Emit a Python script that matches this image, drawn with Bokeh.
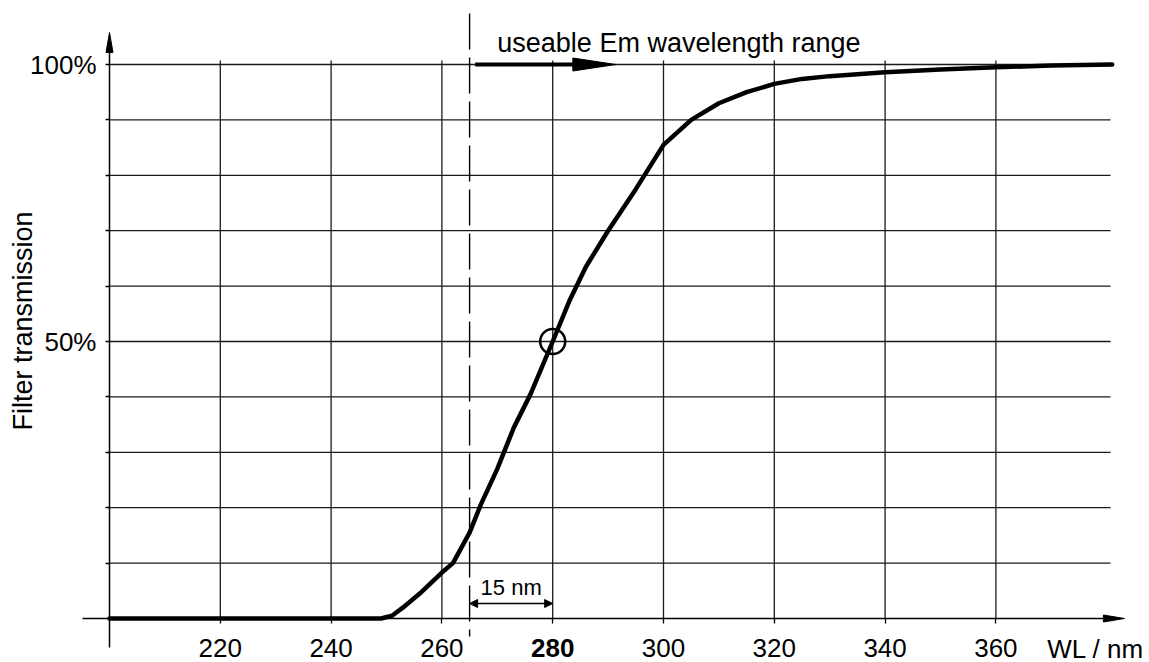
import numpy as np
from bokeh.plotting import figure
from bokeh.models import Range1d, LinearAxis, FixedTicker, Arrow, NormalHead
from bokeh.core.properties import value
from bokeh.embed import file_html
from bokeh.resources import INLINE

# ---------------- data ----------------
wavelength = [200, 249, 251, 253, 256, 260, 262, 265, 267, 270, 273, 276, 280,
              283, 286, 290, 295, 300, 305, 310, 315, 320, 325, 330, 340, 350,
              360, 370, 381]
transmission = [0, 0, 0.5, 2, 4.5, 8.3, 10, 15.5, 20.5, 27, 34.5, 40.5, 50,
                57.3, 63.5, 70, 77.5, 85.5, 90, 93, 95, 96.5, 97.4, 97.9, 98.6,
                99.1, 99.5, 99.8, 100]
x_ticks = [220, 240, 260, 280, 300, 320, 340, 360]
y_ticks = [10, 20, 30, 40, 50, 60, 70, 80, 90, 100]
y_tick_labels = {50: "50%", 100: "100%"}
cutoff_wl, cutoff_t = 280, 50          # 50 % point
edge_wl = 265                          # start of usable range (dashed)
usable_start, usable_end = 266, 291.4  # arrow along the 100 % line
dim_label = "15 nm"
title_text = "useable Em wavelength range"
ylabel_text = "Filter transmission"
xlabel_text = "WL / nm"
xlabel_pos = 378
x_min, grid_x_max, x_axis_end = 200, 380.7, 383.2

# ---------------- layout constants ----------------
W, H = 1149, 662
PX = 5.54   # px per nm
PY = 5.54   # px per %
X0 = 109    # figure px of 200 nm
Y0 = 618    # figure px of 0 %
FONT = value("Liberation Sans")


def dx(px):
    return px / PX


def dy(px):
    return px / PY


p = figure(width=W, height=H, output_backend="svg", toolbar_location=None,
           x_axis_type=None, y_axis_type=None, min_border=0,
           x_range=Range1d(x_min - X0 / PX, x_min + (W - X0) / PX),
           y_range=Range1d(-(H - Y0) / PY, Y0 / PY))
p.outline_line_color = None
p.background_fill_color = "white"

GRID = "#1a1a1a"
# grid
p.segment(x0=x_ticks, y0=[0] * len(x_ticks), x1=x_ticks,
          y1=[100 + dy(4)] * len(x_ticks), line_color=GRID, line_width=1.3)
p.segment(x0=[x_min] * len(y_ticks), y0=y_ticks, x1=[grid_x_max] * len(y_ticks),
          y1=y_ticks, line_color=GRID, line_width=1.3)

# axis lines with arrow heads
p.segment(x0=[x_min], y0=[-dy(29)], x1=[x_min], y1=[100 + dy(14)],
          line_color="black", line_width=1.5)
p.patch(x=[x_min - dx(3.5), x_min, x_min + dx(3.5)],
        y=[100 + dy(12), 100 + dy(32), 100 + dy(12)], color="black")
p.segment(x0=[x_min - dx(27)], y0=[0], x1=[x_axis_end - dx(18)], y1=[0],
          line_color="black", line_width=1.5)
p.patch(x=[x_axis_end - dx(21), x_axis_end, x_axis_end - dx(21)],
        y=[-dy(3.5), 0, dy(3.5)], color="black")

# dashed edge line
p.segment(x0=[edge_wl], y0=[100 + dy(51)], x1=[edge_wl], y1=[-dy(18)],
          line_color="black", line_width=1.4, line_dash="36 8")

# usable range arrow
p.segment(x0=[usable_start], y0=[100], x1=[usable_end - dx(40)], y1=[100],
          line_color="black", line_width=4)
p.patch(x=[usable_end - dx(43), usable_end, usable_end - dx(43)],
        y=[100 - dy(6.5), 100, 100 + dy(6.5)], color="black")

# curve
p.line(wavelength, transmission, line_color="black", line_width=4.5,
       line_join="round", line_cap="round")
p.scatter([cutoff_wl], [cutoff_t], size=25, marker="circle", fill_color=None,
          line_color="black", line_width=2.5)

# 15 nm dimension
dim_y = dy(15)
p.add_layout(Arrow(x_start=edge_wl, y_start=dim_y, x_end=cutoff_wl, y_end=dim_y,
                   line_width=1.3, line_color="black",
                   start=NormalHead(size=8, fill_color="black", line_color="black"),
                   end=NormalHead(size=8, fill_color="black", line_color="black")))
p.text(x=[(edge_wl + cutoff_wl) / 2], y=[dy(31)], text=[dim_label],
       text_font=FONT, text_font_size="22px", text_align="center",
       text_baseline="alphabetic", text_color="black")

# texts
p.text(x=[270], y=[100 + dy(22)], text=[title_text], text_font=FONT,
       text_font_size="27px", text_align="left", text_baseline="alphabetic",
       text_color="black")
p.text(x=[x_min - dx(87)], y=[dy(188)], text=[ylabel_text], angle=np.pi / 2,
       text_font=FONT, text_font_size="27px", text_align="left",
       text_baseline="alphabetic", text_color="black")


def style_axis(ax, tick_out, standoff, bold=False):
    ax.axis_line_color = None
    ax.major_tick_out = tick_out
    ax.major_tick_in = 0
    ax.major_tick_line_color = "black"
    ax.major_tick_line_width = 1.3
    ax.minor_tick_line_color = None
    ax.major_label_text_font = "Liberation Sans"
    ax.major_label_text_font_size = "26px"
    ax.major_label_text_color = "black"
    ax.major_label_standoff = standoff
    if bold:
        ax.major_label_text_font_style = "bold"


xa = LinearAxis(fixed_location=0,
                ticker=FixedTicker(ticks=[t for t in x_ticks if t != cutoff_wl]))
style_axis(xa, 5, 15)
p.add_layout(xa, "below")

xb = LinearAxis(fixed_location=0, ticker=FixedTicker(ticks=[cutoff_wl]))
style_axis(xb, 5, 15, bold=True)
p.add_layout(xb, "below")

xl = LinearAxis(fixed_location=0, ticker=FixedTicker(ticks=[xlabel_pos]),
                major_label_overrides={xlabel_pos: xlabel_text})
style_axis(xl, 5, 10)
xl.major_tick_line_color = None
p.add_layout(xl, "below")

ya = LinearAxis(fixed_location=x_min, ticker=FixedTicker(ticks=y_ticks),
                major_label_overrides={t: y_tick_labels.get(t, "") for t in y_ticks})
style_axis(ya, 4, 9)
p.add_layout(ya, "left")

open("out.html", "w").write(file_html(p, INLINE))
